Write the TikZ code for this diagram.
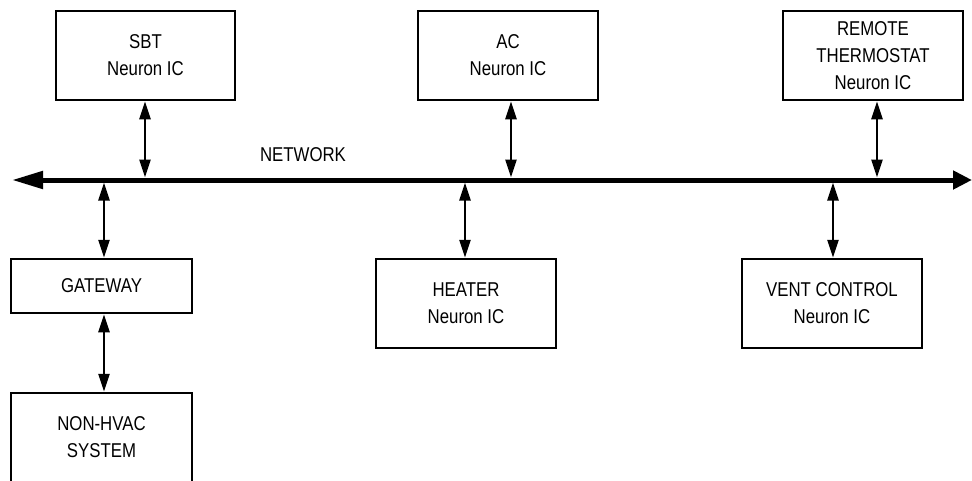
\documentclass[tikz,border=0pt]{standalone}
\usepackage{fontspec}
\setmainfont{Liberation Sans}[FakeStretch=0.84]
\usetikzlibrary{arrows.meta}

\tikzset{
  unit/.style={draw, line width=2.5pt, rectangle, align=center,
    minimum width=180pt, minimum height=89pt, inner sep=0pt,
    font=\fontsize{20}{27}\selectfont},
  smallunit/.style={unit, minimum height=54pt},
  bus/.style={line width=5pt, {Triangle[length=31pt,width=17pt]}-{Triangle[length=19pt,width=18pt]}},
  link/.style={line width=2.5pt, {Triangle[length=18pt,width=11pt]}-{Triangle[length=18pt,width=11pt]}},
  lbl/.style={font=\fontsize{20}{27}\selectfont, inner sep=0pt}
}

\begin{document}
\begin{tikzpicture}[x=1pt, y=-1pt]
  \useasboundingbox (0,0) rectangle (972,480);
  \clip (0,0) rectangle (972,480);

  % devices above the bus
  \node[unit, minimum width=179pt] (sbt) at (145.5,55.5) {SBT\\Neuron IC};
  \node[unit] (ac) at (508,55.5) {AC\\Neuron IC};
  \node[unit] (remote) at (873,55.5) {REMOTE\\THERMOSTAT\\Neuron IC};

  % devices below the bus
  \node[smallunit, minimum width=181pt] (gateway) at (101.5,286) {GATEWAY};
  \node[unit, minimum width=181pt] (nonhvac) at (101.5,437.5) {NON-HVAC\\SYSTEM};
  \node[unit] (heater) at (466,303.5) {HEATER\\Neuron IC};
  \node[unit] (vent) at (832,303.5) {VENT CONTROL\\Neuron IC};

  % the network bus
  \coordinate (netL) at (12,180);
  \coordinate (netR) at (972,180);
  \draw[bus] (netL) -- (netR);
  \node[lbl, anchor=base] (netlabel) at (303,161) {NETWORK};

  % taps on the bus
  \coordinate (tSBT) at (145,177.5);
  \coordinate (tAC) at (511,177.5);
  \coordinate (tRemote) at (877,177.5);
  \coordinate (tGateway) at (104,182.5);
  \coordinate (tHeater) at (465,182.5);
  \coordinate (tVent) at (833,182.5);

  \draw[link] (sbt.south -| tSBT) -- (tSBT);
  \draw[link] (ac.south -| tAC) -- (tAC);
  \draw[link] (remote.south -| tRemote) -- (tRemote);
  \draw[link] (tGateway) -- (gateway.north -| tGateway);
  \draw[link] (tHeater) -- (heater.north -| tHeater);
  \draw[link] (tVent) -- (vent.north -| tVent);
  \draw[link] (gateway.south -| tGateway) -- (nonhvac.north -| tGateway);
\end{tikzpicture}
\end{document}
